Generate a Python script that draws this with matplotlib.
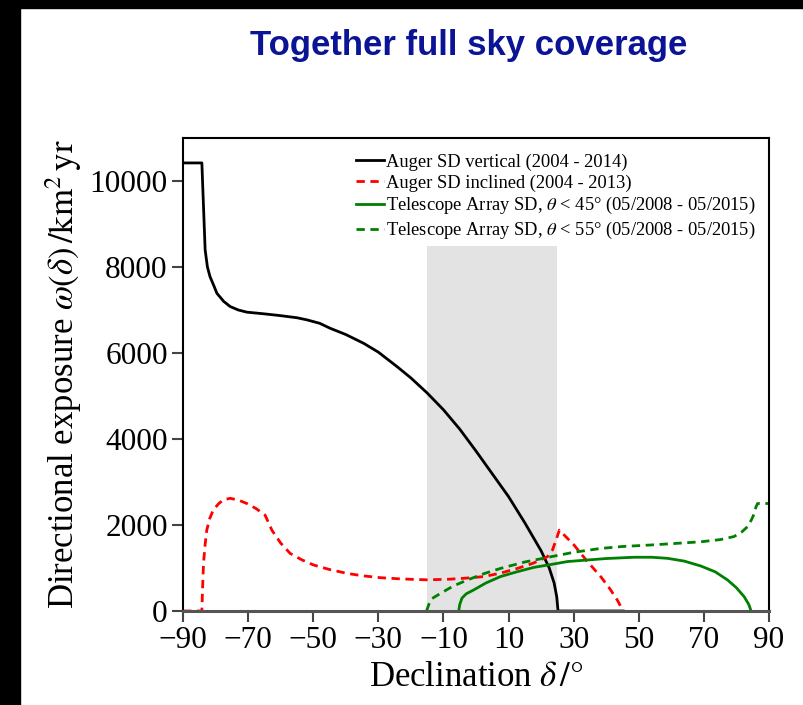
import matplotlib
matplotlib.use("Agg")
import matplotlib.pyplot as plt
from matplotlib.patches import Rectangle

plt.rcParams['font.family'] = ['Liberation Serif', 'DejaVu Serif']
plt.rcParams['mathtext.fontset'] = 'stix'

# Auger SD vertical (2004 - 2014)
vert_dec = [-90, -84.2, -84.0, -83.6, -83.2, -82.5, -81.7, -80.5, -79.6, -77.5, -75.5, -73.0,
            -70.4, -65.0, -60.2, -55.0, -51.9, -48.0, -44.8, -40.0, -34.5, -30.0, -24.2,
            -20.0, -15.0, -10.0, -5.0, 0.0, 5.0, 10.0, 15.0, 20.0, 22.5, 24.0, 24.8, 25.2, 45.2]
vert_exp = [10420, 10420, 10000, 9200, 8400, 8000, 7775, 7560, 7390, 7200, 7080, 7000,
            6950, 6910, 6870, 6820, 6770, 6690, 6575, 6430, 6225, 6020, 5680,
            5420, 5070, 4680, 4230, 3720, 3190, 2660, 2050, 1400, 1000, 650, 330, 0, 0]

# Auger SD inclined (2004 - 2013)
incl_dec = [-90, -84.2, -84.0, -83.7, -83.2, -82.7, -81.8, -80.7, -79.0, -77.5, -75.5, -73.0,
            -70.4, -67.5, -64.8, -64.0, -62.7, -60.0, -57.1, -53.5, -49.9, -45.0, -39.6,
            -35.0, -29.4, -24.0, -19.1, -15.0, -8.0, -3.0, 2.4, 7.5, 12.7, 17.5, 21.9,
            23.5, 24.8, 25.6, 30.1, 34.0, 38.3, 41.0, 43.4, 45.2]
incl_exp = [0, 0, 500, 1110, 1550, 1880, 2150, 2350, 2500, 2590, 2620, 2580,
            2500, 2380, 2230, 2100, 1880, 1580, 1340, 1190, 1070, 965, 875,
            820, 775, 750, 735, 725, 740, 765, 800, 880, 990, 1110, 1260,
            1420, 1700, 1880, 1535, 1170, 800, 530, 255, 0]

# Telescope Array SD, theta < 45
ta45_dec = [-5.3, -5.0, -4.3, -3.0, -0.7, 3.0, 7.5, 12.5, 17.8, 22.9, 28.1, 33.2, 40.0,
            48.6, 54.0, 58.8, 64.0, 69.1, 73.5, 77.3, 80.0, 82.4, 83.8, 84.5]
ta45_exp = [0, 150, 300, 400, 490, 650, 800, 910, 1015, 1080, 1150, 1180, 1220,
            1250, 1250, 1225, 1160, 1045, 910, 720, 540, 330, 150, 0]

# Telescope Array SD, theta < 55
ta55_dec = [-15.2, -14.5, -13.5, -10.9, -7.0, -2.7, 2.5, 7.5, 15.0, 22.9, 30.0, 38.3, 45.0,
            53.7, 61.0, 69.1, 75.0, 79.2, 81.5, 83.4, 84.6, 85.5, 86.0, 86.5, 90.0]
ta55_exp = [0, 150, 290, 410, 580, 720, 870, 990, 1140, 1260, 1365, 1455, 1500,
            1535, 1570, 1610, 1660, 1730, 1830, 1960, 2120, 2270, 2420, 2500, 2500]

band_dec = [-15, 25]
band_top = 8500

xticks = [-90, -70, -50, -30, -10, 10, 30, 50, 70, 90]
yticks = [0, 2000, 4000, 6000, 8000, 10000]

fig = plt.figure(figsize=(8.04, 7.05), dpi=100)
fig.patches.append(Rectangle((0, 0), 20/804, 1, transform=fig.transFigure, color='black', zorder=0))
fig.patches.append(Rectangle((0, 1-8/705), 1, 8/705, transform=fig.transFigure, color='black', zorder=0))

ax = fig.add_axes([183/804, 1-611/705, (769-183)/804, (611-138)/705])

ax.fill_between(band_dec, 0, band_top, color='#e3e3e3', zorder=0, linewidth=0)

ax.plot(vert_dec, vert_exp, color='black', lw=2, label='Auger SD vertical (2004 - 2014)')
ax.plot(incl_dec, incl_exp, color='red', lw=2, ls=(0, (3, 2)), label='Auger SD inclined (2004 - 2013)')
ax.plot(ta45_dec, ta45_exp, color='green', lw=2, label=r'Telescope Array SD, $\theta$ < 45° (05/2008 - 05/2015)')
ax.plot(ta55_dec, ta55_exp, color='green', lw=2, ls=(0, (3, 2)), label=r'Telescope Array SD, $\theta$ < 55° (05/2008 - 05/2015)')

ax.set_xlim(-90, 90)
ax.set_ylim(0, 11000)
ax.set_xticks(xticks)
ax.set_xticklabels(['\u2212' + str(-t) if t < 0 else str(t) for t in xticks])
ax.set_yticks(yticks)
ax.tick_params(axis='both', direction='out', length=8, width=1.5, labelsize=22.5, pad=3,
               color='#444444')
ax.tick_params(top=False, right=False)
for s in ax.spines.values():
    s.set_linewidth(1.5)
ax.spines['bottom'].set_color('#555555')
ax.spines['bottom'].set_linewidth(2.2)

ax.set_xlabel(r'Declination $\delta\,/°$', fontsize=25, labelpad=4)
ax.set_ylabel(r'Directional exposure $\omega(\delta)\,/\mathrm{km}^2\,\mathrm{yr}$', fontsize=25, labelpad=4)

ax.legend(loc='upper right', bbox_to_anchor=(1.0, 0.995), frameon=False, fontsize=13.3,
          handlelength=1.5, handletextpad=0.15, labelspacing=0.2, borderaxespad=0.3)

fig.text(469/804, 1-46/705, 'Together full sky coverage', ha='center', va='center',
         fontsize=25, fontweight='bold', color='#0a1494', family='Liberation Sans')

fig.savefig('out.png', dpi=100, facecolor='white')
